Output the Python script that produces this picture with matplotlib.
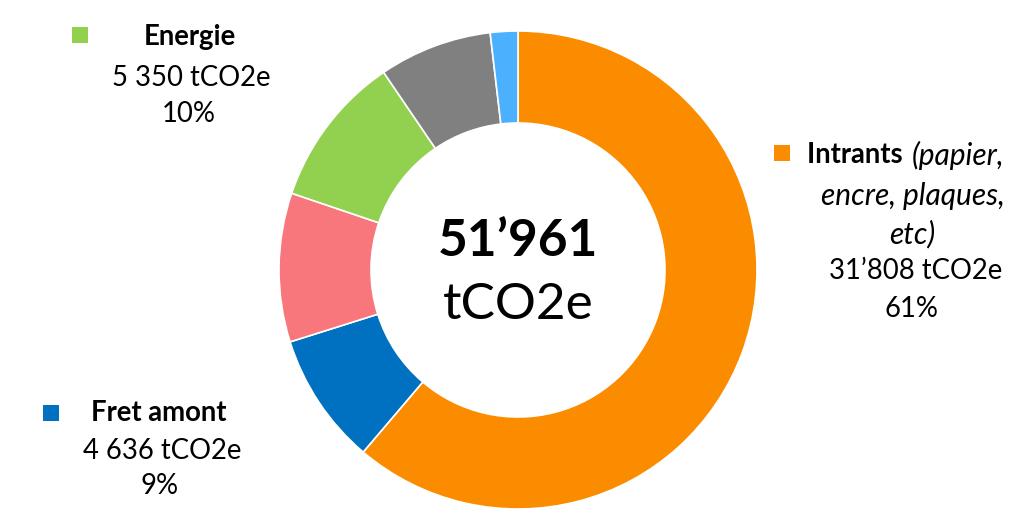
import matplotlib
matplotlib.use("Agg")
import matplotlib.pyplot as plt
from matplotlib.patches import Rectangle

categories = ["Intrants", "Fret amont", "Autres (rose)", "Energie", "Autres (gris)", "Autres (bleu clair)"]
values = [31808, 4636, 5230, 5350, 3970, 967]
colors = ["#FB8C00", "#0070C0", "#F8777D", "#92D050", "#808080", "#4BB1FF"]
total_label = "51’961"
unit = "tCO2e"

plt.rcParams['font.family'] = ['Lato', 'DejaVu Sans']

W, H = 1024, 527
fig = plt.figure(figsize=(W / 100, H / 100), dpi=100)
fig.patch.set_facecolor("white")

def fx(x):
    return x / W

def fy(y):
    return 1 - y / H

cx, cy, R = 518, 270, 239
ax = fig.add_axes([fx(cx - R), fy(cy + R), 2 * R / W, 2 * R / H])
ax.pie(values, colors=colors, startangle=90, counterclock=False, radius=1,
       wedgeprops=dict(width=1 - 147 / 239, edgecolor="white", linewidth=1.2))
ax.set_xlim(-1, 1)
ax.set_ylim(-1, 1)
ax.set_aspect("equal")
ax.axis("off")

# center text
fig.text(fx(518), fy(242), total_label, ha="center", va="center", fontsize=37, fontweight="bold")
fig.text(fx(518), fy(305), unit, ha="center", va="center", fontsize=37)

fs = 19.8
fsi = 21.5

def square(x, y, color, s=16):
    fig.patches.append(Rectangle((fx(x), fy(y + s)), s / W, s / H, transform=fig.transFigure,
                                 facecolor=color, edgecolor="none"))

# Energie
square(72, 27, colors[3])
fig.text(fx(190), fy(37), "Energie", ha="center", va="center", fontsize=fs, fontweight="bold")
fig.text(fx(191), fy(78), f"5 350 {unit}", ha="center", va="center", fontsize=fs)
fig.text(fx(189), fy(114), "10%", ha="center", va="center", fontsize=fs)

# Intrants
square(774, 145, colors[0])
t1 = fig.text(fx(807), fy(155), "Intrants ", ha="left", va="center", fontsize=fs, fontweight="bold")
fig.canvas.draw()
bb = t1.get_window_extent()
fig.text(bb.x1 / W + 2 / W, fy(155), "(papier,", ha="left", va="center", fontsize=fsi, fontstyle="italic")
fig.text(fx(913), fy(196), "encre, plaques,", ha="center", va="center", fontsize=fsi, fontstyle="italic")
fig.text(fx(912), fy(234), "etc)", ha="center", va="center", fontsize=fsi, fontstyle="italic")
fig.text(fx(916), fy(271), f"31’808 {unit}", ha="center", va="center", fontsize=fs)
fig.text(fx(912), fy(309), "61%", ha="center", va="center", fontsize=fs)

# Fret amont
square(43, 405, colors[1])
fig.text(fx(159), fy(413), "Fret amont", ha="center", va="center", fontsize=fs, fontweight="bold")
fig.text(fx(162), fy(451), f"4 636 {unit}", ha="center", va="center", fontsize=fs)
fig.text(fx(160), fy(486), "9%", ha="center", va="center", fontsize=fs)

fig.savefig("out.png", dpi=100, facecolor="white")
